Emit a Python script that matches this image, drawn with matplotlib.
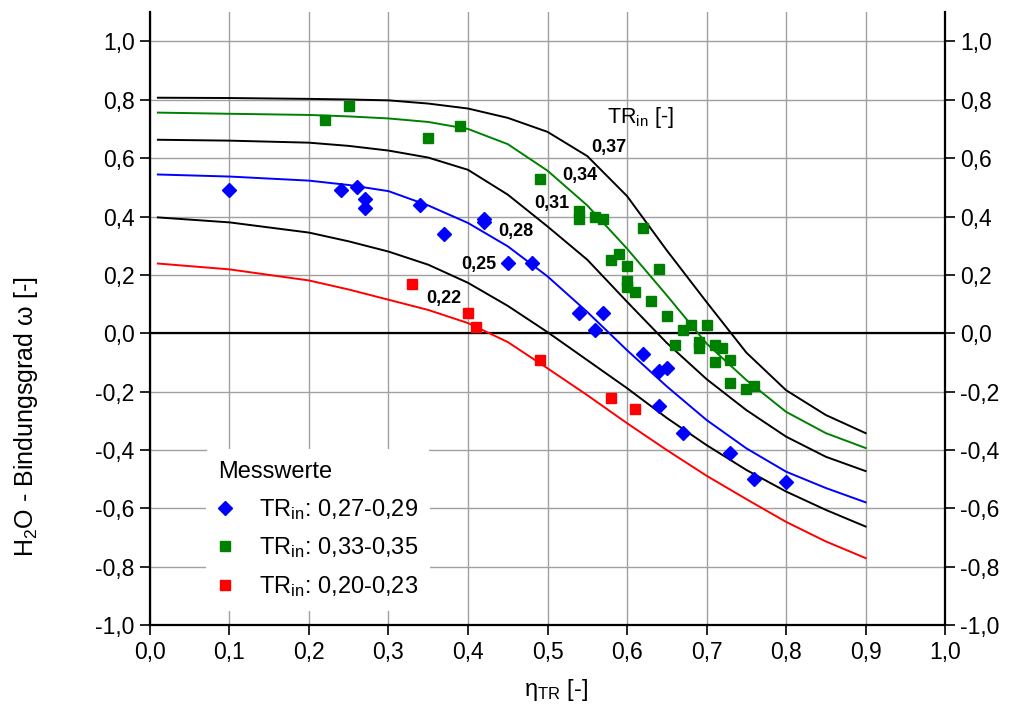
import matplotlib
matplotlib.use("Agg")
import matplotlib.pyplot as plt
from matplotlib.ticker import MultipleLocator, FuncFormatter

plt.rcParams['font.family'] = ['Liberation Sans', 'DejaVu Sans']
plt.rcParams['mathtext.fontset'] = 'custom'
plt.rcParams['mathtext.rm'] = 'Liberation Sans'
plt.rcParams['mathtext.it'] = 'Liberation Sans:italic'
plt.rcParams['mathtext.bf'] = 'Liberation Sans:bold'

# model curves (eta_TR -> omega), one per TR_in
x_curve = [0.01, 0.1, 0.2, 0.25, 0.3, 0.35, 0.4, 0.45, 0.5, 0.55, 0.6, 0.65, 0.7, 0.75, 0.8, 0.85, 0.9]
tr37 = [0.807, 0.806, 0.803, 0.801, 0.798, 0.787, 0.770, 0.738, 0.690, 0.607, 0.470, 0.284, 0.107, -0.066, -0.195, -0.280, -0.342]
tr34 = [0.756, 0.752, 0.748, 0.743, 0.736, 0.724, 0.700, 0.648, 0.557, 0.438, 0.290, 0.130, -0.035, -0.160, -0.269, -0.342, -0.393]
tr31 = [0.663, 0.660, 0.653, 0.642, 0.626, 0.602, 0.560, 0.475, 0.366, 0.252, 0.108, -0.033, -0.157, -0.263, -0.354, -0.423, -0.472]
tr28 = [0.544, 0.537, 0.523, 0.508, 0.487, 0.438, 0.378, 0.298, 0.195, 0.073, -0.058, -0.182, -0.297, -0.394, -0.474, -0.530, -0.579]
tr25 = [0.397, 0.380, 0.345, 0.315, 0.280, 0.235, 0.173, 0.094, 0.004, -0.092, -0.188, -0.290, -0.383, -0.468, -0.542, -0.605, -0.662]
tr22 = [0.239, 0.219, 0.181, 0.150, 0.115, 0.080, 0.035, -0.030, -0.120, -0.212, -0.308, -0.400, -0.488, -0.568, -0.646, -0.713, -0.770]

curves = [tr37, tr34, tr31, tr28, tr25, tr22]
curve_colors = ['black', 'green', 'black', 'blue', 'black', 'red']
curve_labels = ['0,37', '0,34', '0,31', '0,28', '0,25', '0,22']
label_pos = [(0.577, 0.636), (0.540, 0.540), (0.506, 0.444), (0.460, 0.349), (0.413, 0.236), (0.370, 0.120)]

# measured values
blue_x = [0.10, 0.24, 0.26, 0.27, 0.27, 0.34, 0.37, 0.42, 0.42, 0.45, 0.48, 0.54, 0.56, 0.57,
          0.62, 0.64, 0.65, 0.64, 0.67, 0.73, 0.76, 0.80]
blue_y = [0.49, 0.49, 0.50, 0.46, 0.43, 0.44, 0.34, 0.39, 0.38, 0.24, 0.24, 0.07, 0.01, 0.07,
          -0.07, -0.13, -0.12, -0.25, -0.34, -0.41, -0.50, -0.51]

green_x = [0.22, 0.25, 0.35, 0.39, 0.49, 0.54, 0.54, 0.56, 0.57, 0.58, 0.59, 0.60, 0.60, 0.60,
           0.61, 0.62, 0.63, 0.64, 0.65, 0.66, 0.67, 0.68, 0.70, 0.69, 0.69, 0.71, 0.72,
           0.71, 0.73, 0.73, 0.75, 0.76]
green_y = [0.73, 0.78, 0.67, 0.71, 0.53, 0.42, 0.39, 0.40, 0.39, 0.25, 0.27, 0.23, 0.18, 0.16,
           0.14, 0.36, 0.11, 0.22, 0.06, -0.04, 0.01, 0.03, 0.03, -0.03, -0.05, -0.04, -0.05,
           -0.10, -0.09, -0.17, -0.19, -0.18]

red_x = [0.33, 0.40, 0.41, 0.49, 0.58, 0.61]
red_y = [0.17, 0.07, 0.02, -0.09, -0.22, -0.26]


def comma(v, pos):
    return ('%.1f' % v).replace('.', ',')


fig = plt.figure(figsize=(10.13, 7.17), dpi=100)
ax = fig.add_axes([0.148, 0.128, 0.785, 0.855])

for y, c in zip(curves, curve_colors):
    ax.plot(x_curve, y, color=c, lw=1.4, zorder=3)

ax.axhline(0, color='black', lw=1.6, zorder=2)

ax.plot(blue_x, blue_y, 'D', color='blue', ms=7.5, ls='none', zorder=4,
        label='TR$_{\\mathrm{in}}$: 0,27-0,29')
ax.plot(green_x, green_y, 's', color='green', ms=7, ls='none', zorder=4,
        label='TR$_{\\mathrm{in}}$: 0,33-0,35')
ax.plot(red_x, red_y, 's', color='red', ms=7, ls='none', zorder=4,
        label='TR$_{\\mathrm{in}}$: 0,20-0,23')

for lab, (lx, ly) in zip(curve_labels, label_pos):
    ax.text(lx, ly, lab, fontsize=13, fontweight='bold', ha='center', va='center', zorder=5)
ax.text(0.575, 0.721, 'TR$_{\\mathrm{in}}$ [-]', fontsize=15.5, ha='left', va='baseline')

ax.set_xlim(0, 1.0)
ax.set_ylim(-1.0, 1.1)
ax.xaxis.set_major_locator(MultipleLocator(0.1))
ax.set_yticks([-1.0, -0.8, -0.6, -0.4, -0.2, 0.0, 0.2, 0.4, 0.6, 0.8, 1.0])
ax.xaxis.set_major_formatter(FuncFormatter(comma))
ax.yaxis.set_major_formatter(FuncFormatter(comma))
ax.grid(True, color='#a0a0a0', lw=1.0, zorder=0)
ax.set_axisbelow(True)

ax.spines['top'].set_visible(False)
for s in ['left', 'right', 'bottom']:
    ax.spines[s].set_linewidth(1.6)
ax.tick_params(axis='both', direction='out', length=7, width=1.2, labelsize=16.5, pad=4)
ax.tick_params(axis='y', right=True, labelright=True)

ax.set_xlabel('η$_{\\mathrm{TR}}$ [-]', fontsize=17)
ax.set_ylabel('H$_{2}$O - Bindungsgrad ω [-]', fontsize=18)
ax.xaxis.set_label_coords(0.51, -0.085)
ax.yaxis.set_label_coords(-0.138, 0.34)

leg = ax.legend(loc='lower left', bbox_to_anchor=(0.062, 0.012), title='Messwerte',
                fontsize=17, title_fontsize=17, frameon=True, facecolor='white',
                edgecolor='none', framealpha=1.0, handletextpad=1.15, labelspacing=0.58,
                borderpad=0.5, alignment='left', handlelength=0.6, borderaxespad=0.3)
leg.set_zorder(6)

fig.savefig('out.png', dpi=100)
